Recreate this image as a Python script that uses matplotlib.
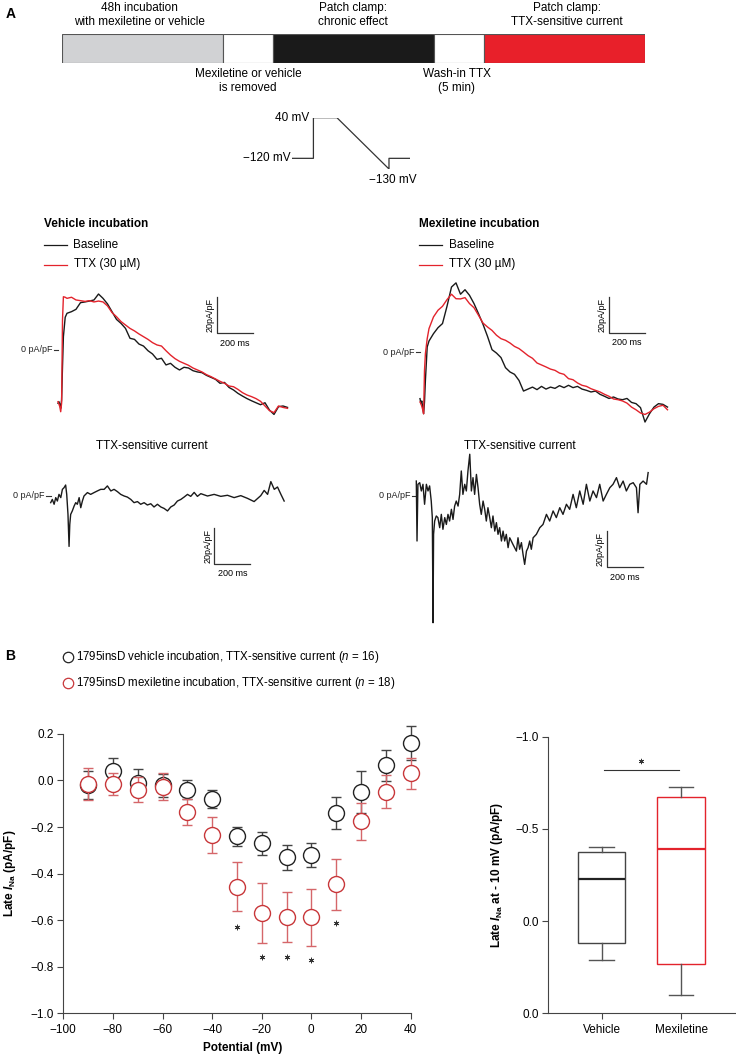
import numpy as np
import matplotlib
matplotlib.use('Agg')
import matplotlib.pyplot as plt

plt.rcParams['font.family'] = ['Liberation Sans', 'DejaVu Sans']
plt.rcParams['mathtext.fontset'] = 'custom'
plt.rcParams['mathtext.it'] = 'Liberation Sans:italic:bold'
plt.rcParams['mathtext.rm'] = 'Liberation Sans:bold'
plt.rcParams['mathtext.sf'] = 'Liberation Sans:italic'

# ---------------- data ----------------
# experiment timeline (schematic)
seg_width = [3.2, 1, 3.2, 1, 3.2]
seg_color = ['#d1d2d4', 'white', '#1a1a1a', 'white', '#e8202a']

# voltage protocol (schematic times)
protocol_t = [0, 210, 210, 445, 965, 965, 1170]
protocol_mv = [-120, -120, 40, 40, -130, -120, -120]

# vehicle incubation, raw traces (ms, pA/pF)
veh_t = [0, 5, 10, 15, 20, 25, 30, 40, 50, 75, 100, 125, 150, 175, 200, 225, 250, 275,
         300, 325, 350, 375, 400, 425, 450, 475, 500, 525, 550, 575, 600, 625, 650, 675,
         700, 725, 750, 775, 800, 825, 850, 875, 900, 925, 950, 975, 1000, 1025, 1050,
         1075, 1100, 1125, 1150, 1175, 1200, 1225, 1250, 1275]
veh_base = [-29.6, -28.7, -30.0, -32.4, -27.8, -9.3, 7.4, 18.2, 20.4, 21.3, 22.6, 26.3,
            26.7, 27.2, 27.8, 31.1, 28.7, 25.6, 21.3, 17.0, 14.8, 12.0, 6.5, 5.9, 3.3, 2.2,
            -0.4, -2.2, -5.2, -4.6, -8.3, -7.4, -9.6, -11.1, -9.6, -10.0, -11.5, -12.2,
            -12.6, -14.1, -15.2, -16.3, -18.5, -18.0, -20.8, -22.2, -24.1, -25.6, -27.0,
            -28.2, -29.3, -30.4, -29.3, -33.4, -35.8, -31.5, -31.1, -31.9]
veh_ttx = [-28.7, -30.0, -31.5, -34.3, -29.6, 16.7, 29.6, 29.3, 28.7, 29.3, 27.8, 27.4,
           27.0, 27.4, 26.7, 27.2, 26.7, 24.5, 20.8, 18.5, 15.8, 13.9, 12.0, 10.6, 8.9, 7.4,
           5.9, 4.1, 2.8, 2.2, -0.4, -2.8, -4.8, -6.3, -7.4, -8.5, -10.0, -11.1, -12.2,
           -13.7, -14.8, -16.1, -17.4, -18.5, -20.0, -20.4, -21.9, -23.7, -25.0, -25.9,
           -27.0, -28.5, -31.1, -33.7, -34.8, -31.1, -31.9, -32.4]

# mexiletine incubation, raw traces
mex_t = [0, 5, 10, 15, 20, 25, 30, 40, 50, 75, 100, 125, 150, 175, 200, 225, 250, 275,
         300, 325, 350, 375, 400, 425, 450, 475, 500, 525, 550, 575, 600, 625, 650, 675,
         700, 725, 750, 775, 800, 825, 850, 875, 900, 925, 950, 975, 1000, 1025, 1050,
         1075, 1100, 1125, 1150, 1175, 1200, 1225, 1250, 1275, 1300, 1325, 1350, 1375]
mex_base = [-25.9, -28.7, -27.2, -30.6, -34.3, -27.8, -15.8, 2.8, 6.1, 10.2, 13.5, 15.8,
            25.4, 36.1, 38.4, 32.1, 34.6, 31.5, 26.9, 21.3, 15.4, 8.7, 1.3, -0.6, -3.1,
            -8.7, -11.1, -12.4, -15.8, -21.7, -20.6, -19.5, -20.9, -19.1, -20.6, -19.5,
            -20.2, -18.7, -19.8, -18.5, -19.8, -19.1, -20.6, -21.3, -22.2, -21.7, -23.5,
            -24.6, -25.8, -25.0, -26.1, -26.5, -25.8, -28.0, -28.7, -30.9, -38.9, -34.3,
            -30.6, -28.7, -29.1, -30.6]
mex_ttx = [-27.8, -28.7, -30.2, -32.0, -34.3, -10.2, -0.9, 7.4, 13.0, 19.5, 23.2, 25.4,
           29.1, 32.1, 29.6, 29.5, 30.2, 26.9, 24.6, 20.4, 16.1, 13.9, 12.0, 9.3, 7.4, 6.5,
           5.0, 3.1, 1.9, 0.0, -2.0, -3.5, -6.1, -7.2, -8.3, -9.5, -10.2, -11.7, -12.4,
           -14.8, -15.4, -17.2, -18.5, -19.1, -20.4, -21.3, -22.2, -23.5, -24.6, -26.1,
           -26.5, -27.2, -28.4, -30.6, -32.1, -33.9, -34.7, -33.4, -31.5, -30.2, -29.6,
           -32.1]

# TTX-sensitive current, vehicle
vsens_t = [0, 9, 19, 28, 37, 46, 56, 65, 74, 83, 89, 96, 102, 106, 111, 120, 130, 139,
           148, 158, 167, 176, 185, 204, 222, 241, 259, 278, 297, 315, 334, 352, 371, 389,
           408, 426, 445, 463, 482, 500, 519, 537, 556, 574, 593, 612, 630, 649, 667, 686,
           704, 723, 741, 760, 778, 797, 815, 834, 871, 908, 945, 982, 1019, 1056, 1093,
           1130, 1167, 1186, 1205, 1223, 1242, 1260, 1279, 1297]
vsens_i = [-3.7, -1.9, -4.6, -0.9, -2.8, 0.9, -0.9, 3.7, 4.6, 6.1, 0.9, -10.2, -28.0,
           -15.8, -10.2, -8.3, -5.6, -3.7, -4.6, -0.9, -6.5, -2.8, 0.0, 1.9, 0.9, 1.9, 2.8,
           3.7, 3.7, 5.6, 2.8, 3.7, 2.4, 0.9, 0.0, -0.6, -1.9, -3.7, -3.1, -4.6, -3.7,
           -5.0, -4.3, -6.1, -4.6, -6.1, -6.9, -8.3, -6.1, -5.0, -2.8, -1.9, -0.6, 0.9,
           -0.2, 2.0, -0.2, 1.3, 0.0, 0.9, -0.2, 0.4, -0.9, 0.2, -1.3, -3.1, 0.2, 3.1, 0.9,
           8.0, 3.7, 5.0, 0.9, -2.8]

# TTX-sensitive current, mexiletine
msens_t = [0, 4, 9, 19, 28, 37, 46, 56, 65, 74, 83, 89, 93, 96, 102, 111, 120, 130, 139,
           148, 158, 167, 176, 185, 195, 204, 213, 222, 232, 241, 250, 259, 269, 278, 287,
           297, 306, 315, 324, 334, 343, 352, 361, 371, 380, 389, 398, 408, 417, 426, 436,
           445, 454, 463, 473, 482, 491, 500, 510, 519, 537, 556, 565, 574, 584, 593, 602,
           612, 621, 630, 639, 649, 667, 686, 704, 723, 741, 760, 778, 797, 815, 834, 852,
           871, 889, 908, 927, 945, 964, 982, 1001, 1019, 1038, 1056, 1075, 1093, 1112,
           1130, 1149, 1167, 1186, 1205, 1223, 1232, 1242, 1260, 1279, 1288]
msens_i = [8.3, -25.0, 6.5, 7.4, 2.8, 6.5, -4.6, 6.5, 2.8, 5.6, -2.8, -12.0, -70.4, -21.3,
           -13.9, -11.1, -12.0, -17.6, -10.2, -18.5, -12.0, -15.8, -10.2, -13.9, -7.4,
           -13.0, -5.6, -2.8, -5.6, 0.9, 13.9, 0.9, 6.5, 2.8, 13.9, 23.2, 2.8, 10.2, 0.9,
           12.0, 4.6, -4.6, -10.2, -2.8, -7.4, -13.9, -6.5, -12.0, -17.6, -11.1, -19.5,
           -14.8, -21.3, -17.6, -25.0, -19.5, -25.0, -21.3, -28.7, -23.2, -26.9, -30.6,
           -23.2, -29.6, -25.9, -32.4, -38.0, -30.6, -28.7, -25.0, -29.6, -23.2, -21.3,
           -17.6, -15.8, -10.2, -13.9, -8.3, -12.0, -6.5, -10.2, -4.6, -7.4, 0.9, -6.5, 2.8,
           -4.6, 6.5, -2.8, 2.8, -0.9, 6.5, -2.8, 0.9, 4.6, 6.5, 10.2, 4.6, 8.3, 2.8, 6.5,
           7.4, 4.6, -9.3, 6.5, 8.3, 6.5, 13.0]

# panel B: late INa vs potential
volt = [-90, -80, -70, -60, -50, -40, -30, -20, -10, 0, 10, 20, 30, 40]
veh_mean = [-0.02, 0.04, -0.01, -0.02, -0.04, -0.08, -0.24, -0.27, -0.33, -0.32, -0.14, -0.05, 0.065, 0.16]
veh_sem = [0.06, 0.055, 0.058, 0.05, 0.04, 0.04, 0.04, 0.05, 0.053, 0.05, 0.067, 0.09, 0.068, 0.074]
mex_mean = [-0.015, -0.016, -0.04, -0.026, -0.136, -0.234, -0.456, -0.57, -0.587, -0.587, -0.446, -0.176, -0.048, 0.031]
mex_sem = [0.07, 0.047, 0.053, 0.058, 0.056, 0.078, 0.105, 0.13, 0.107, 0.122, 0.109, 0.08, 0.072, 0.066]
sig_volt = [-30, -20, -10, 0, 10]
sig_y = [-0.628, -0.76, -0.76, -0.769, -0.613]
iv_xticks = [-100, -80, -60, -40, -20, 0, 20, 40]
iv_yticks = [-1.0, -0.8, -0.6, -0.4, -0.2, 0.0, 0.2]

# panel B: box plot at -10 mV
box_names = ['Vehicle', 'Mexiletine']
box_whislo = [-0.404, -0.725]
box_q1 = [-0.377, -0.671]
box_med = [-0.228, -0.391]
box_q3 = [0.121, 0.233]
box_whishi = [0.211, 0.40]
box_yticks = [-1.0, -0.5, 0.0, 0.5]
box_yticklabels = ['\u22121.0', '\u22120.5', '0.0', '0.0']

BLACK = '#1a1a1a'
RED = '#e3232c'
W, H = 736, 1056
PX_MS, PX_PA = 0.18, 1.8

fig = plt.figure(figsize=(W / 100, H / 100), dpi=100)


def px_axes(left, top, right, bottom):
    return fig.add_axes([left / W, 1 - bottom / H, (right - left) / W, (bottom - top) / H])


def trace_axes(x0, y0, tlim, ilim):
    ax = px_axes(x0 + tlim[0] * PX_MS, y0 - ilim[1] * PX_PA,
                 x0 + tlim[1] * PX_MS, y0 - ilim[0] * PX_PA)
    ax.set_xlim(*tlim)
    ax.set_ylim(*ilim)
    ax.axis('off')
    ax.plot([-24, 0], [0, 0], color='#333333', lw=0.8)
    ax.text(-32, 0, '0 pA/pF', ha='right', va='center', fontsize=6.5, color='#222222')
    return ax


def scale_bar(ax, t0, i0):
    ax.plot([t0, t0, t0 + 200], [i0 + 20, i0, i0], color='#333333', lw=0.9)
    ax.text(t0 - 12, i0 + 10, '20pA/pF', rotation=90, ha='right', va='center', fontsize=6.5)
    ax.text(t0 + 100, i0 - 3, '200 ms', ha='center', va='top', fontsize=6.5)


# ---- timeline ----
ax_tl = px_axes(62, 34, 645, 63)
ax_tl.barh(0, seg_width, left=np.cumsum([0] + seg_width[:-1]), height=1,
           color=seg_color, edgecolor='#555555', linewidth=0.8)
ax_tl.set_xlim(0, sum(seg_width))
ax_tl.set_ylim(-0.5, 0.5)
ax_tl.axis('off')


# ---- protocol (stretched below -120 mV, as drawn in the schematic) ----
def _fwd(v):
    v = np.asarray(v, dtype=float)
    return np.where(v < -120, -120 + (v + 120) * 4.2, v)


def _inv(v):
    v = np.asarray(v, dtype=float)
    return np.where(v < -120, -120 + (v + 120) / 4.2, v)


ax_pr = px_axes(292.4, 117.7, 409.5, 169)
ax_pr.set_yscale('function', functions=(_fwd, _inv))
ax_pr.plot(protocol_t, protocol_mv, color='#333333', lw=0.9)
ax_pr.set_xlim(0, protocol_t[-1])
ax_pr.set_ylim(-130, 40)
ax_pr.axis('off')

# ---- traces ----
TLW = 1.0
ax = trace_axes(58, 350, (-250, 1300), (-40, 35))
ax.plot(veh_t, veh_base, color=BLACK, lw=TLW)
ax.plot(veh_t, veh_ttx, color=RED, lw=TLW)
scale_bar(ax, 882, 9.3)

ax = trace_axes(420, 352, (-250, 1400), (-42, 42))
ax.plot(mex_t, mex_base, color=BLACK, lw=TLW)
ax.plot(mex_t, mex_ttx, color=RED, lw=TLW)
scale_bar(ax, 1048, 10.7)

ax = trace_axes(50.7, 496, (-250, 1320), (-45, 12))
ax.plot(vsens_t, vsens_i, color=BLACK, lw=TLW)
scale_bar(ax, 909, -37.8)

ax = trace_axes(416.3, 496, (-250, 1320), (-75, 30))
ax.plot(msens_t, msens_i, color=BLACK, lw=TLW)
scale_bar(ax, 1059, -39.6)

# ---- panel B: IV ----
ax_iv = px_axes(63.3, 1013.3 - 1.25 * 232.8, 63.3 + 145 * 2.48, 1013.3)
ax_iv.errorbar(volt, veh_mean, yerr=veh_sem, fmt='o', ms=11.5, mfc='white', mec='#222222',
               mew=1, ecolor='#444444', elinewidth=1, capsize=3.6, capthick=1, zorder=3)
ax_iv.errorbar(volt, mex_mean, yerr=mex_sem, fmt='o', ms=11.5, mfc='white', mec='#c8373a',
               mew=1, ecolor='#d5666a', elinewidth=1, capsize=3.6, capthick=1, zorder=4)
ax_iv.plot(sig_volt, sig_y, ls='none', marker=(6, 2, 0), ms=4, mew=0.6, color='#333333')
ax_iv.set_xlim(-100, 45)
ax_iv.set_ylim(-1.0, 0.25)
ax_iv.set_xticks(iv_xticks)
ax_iv.set_yticks(iv_yticks)
ax_iv.spines['left'].set_bounds(-1.0, 0.2)
ax_iv.spines['bottom'].set_bounds(-100, 40)
for s in ['top', 'right']:
    ax_iv.spines[s].set_visible(False)
for s in ['left', 'bottom']:
    ax_iv.spines[s].set_color('#444444')
ax_iv.tick_params(labelsize=8.5, length=4, width=0.8, color='#444444', pad=3)
ax_iv.tick_params(axis='x', pad=4)
ax_iv.set_xlabel('Potential (mV)', fontsize=8.5, fontweight='bold', labelpad=4)
ax_iv.set_ylabel(r'Late $I_{\mathrm{Na}}$ (pA/pF)', fontsize=8.5, fontweight='bold')
ax_iv.yaxis.set_label_coords(-0.125, 0.48)

# ---- panel B: box plot ----
ax_bx = px_axes(548.3, 736.7, 736, 1013.3)
stats = [dict(label=n, whislo=a, q1=b, med=c, q3=d, whishi=e)
         for n, a, b, c, d, e in zip(box_names, box_whislo, box_q1, box_med, box_q3, box_whishi)]
bp = ax_bx.bxp(stats, positions=[1, 2], widths=0.6, showfliers=False, patch_artist=True,
               boxprops=dict(facecolor='white', linewidth=1),
               whiskerprops=dict(color='#555555', linewidth=1),
               capprops=dict(color='#555555', linewidth=1),
               medianprops=dict(linewidth=1.6))
for patch, med, col, mcol in zip(bp['boxes'], bp['medians'],
                                 ['#444444', RED], ['#222222', RED]):
    patch.set_edgecolor(col)
    med.set_color(mcol)
for cap in bp['caps']:
    c = np.mean(cap.get_xdata())
    cap.set_xdata([c - 0.155, c + 0.155])
ax_bx.plot([1.03, 1.97], [-0.82, -0.82], color='#333333', lw=0.8)
ax_bx.plot([1.5], [-0.87], ls='none', marker=(6, 2, 0), ms=3.8, mew=0.6, color='#333333')
ax_bx.set_xlim(0.33, 2.69)
ax_bx.set_ylim(0.5, -1.0)
ax_bx.set_yticks(box_yticks)
ax_bx.set_yticklabels(box_yticklabels)
ax_bx.set_xticks([1, 2])
ax_bx.set_xticklabels(box_names)
for s in ['top', 'right']:
    ax_bx.spines[s].set_visible(False)
for s in ['left', 'bottom']:
    ax_bx.spines[s].set_color('#444444')
ax_bx.tick_params(labelsize=8.5, length=4, width=0.8, color='#444444', pad=3)
ax_bx.tick_params(axis='x', pad=4)
ax_bx.set_ylabel(r'Late $I_{\mathrm{Na}}$ at - 10 mV (pA/pF)', fontsize=8.5, fontweight='bold')
ax_bx.yaxis.set_label_coords(-0.232, 0.5)

# ---- text overlay (pixel coordinates) ----
ann = fig.add_axes([0, 0, 1, 1])
ann.set_xlim(0, W)
ann.set_ylim(H, 0)
ann.axis('off')
fs = 8.5
ann.text(6, 14, 'A', fontsize=10, fontweight='bold', va='center')
ann.text(5, 656, 'B', fontsize=10, fontweight='bold', va='center')
ann.text(139, 15, '48h incubation\nwith mexiletine or vehicle', ha='center', va='center',
         fontsize=fs, linespacing=1.15)
ann.text(353, 15, 'Patch clamp:\nchronic effect', ha='center', va='center', fontsize=fs,
         linespacing=1.15)
ann.text(567, 15, 'Patch clamp:\nTTX-sensitive current', ha='center', va='center',
         fontsize=fs, linespacing=1.15)
ann.text(248, 81, 'Mexiletine or vehicle\nis removed', ha='center', va='center', fontsize=fs,
         linespacing=1.15)
ann.text(457, 81, 'Wash-in TTX\n(5 min)', ha='center', va='center', fontsize=fs,
         linespacing=1.15)
ann.text(309, 117.7, '40 mV', ha='right', va='center', fontsize=fs)
ann.text(291, 158.3, '\u2212120 mV', ha='right', va='center', fontsize=fs)
ann.text(393, 180, '\u2212130 mV', ha='center', va='center', fontsize=fs)

for x0, title in [(43.5, 'Vehicle incubation'), (419, 'Mexiletine incubation')]:
    ann.text(x0, 224, title, fontsize=fs, fontweight='bold', va='center')
    ann.plot([x0, x0 + 23], [244.5, 244.5], color=BLACK, lw=0.9)
    ann.plot([x0, x0 + 23], [264.5, 264.5], color=RED, lw=0.9)
    ann.text(x0 + 30, 244.5, 'Baseline', fontsize=fs, va='center')
    ann.text(x0 + 30, 264.5, 'TTX (30 \u00b5M)', fontsize=fs, va='center')

ann.text(152, 446, 'TTX-sensitive current', ha='center', va='center', fontsize=fs)
ann.text(520, 446, 'TTX-sensitive current', ha='center', va='center', fontsize=fs)

ann.plot([68.3], [656.7], 'o', ms=7.5, mfc='none', mec='#222222', mew=0.9)
ann.plot([68.3], [683.3], 'o', ms=7.5, mfc='none', mec='#c8373a', mew=0.9)
ann.text(76, 656.7, r'1795insD vehicle incubation, TTX-sensitive current ($\mathsf{n}$ = 16)',
         fontsize=8.3, va='center')
ann.text(76, 683.3, r'1795insD mexiletine incubation, TTX-sensitive current ($\mathsf{n}$ = 18)',
         fontsize=8.3, va='center')

fig.savefig('out.png', dpi=100)
